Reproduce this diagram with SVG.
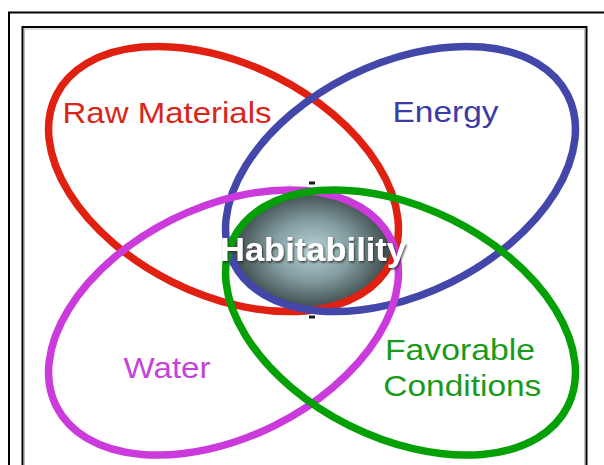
<svg xmlns="http://www.w3.org/2000/svg" width="604" height="465" viewBox="0 0 604 465">
  <defs>
    <radialGradient id="coreGrad" cx="0.5" cy="0.5" r="0.5">
      <stop offset="0" stop-color="#b9d5d9"/>
      <stop offset="0.45" stop-color="#829c9f"/>
      <stop offset="1" stop-color="#2a3333"/>
    </radialGradient>
    <clipPath id="cRed"><ellipse cx="223.5" cy="179" rx="190" ry="118" transform="rotate(26.6 223.5 179)"/></clipPath>
    <clipPath id="cBlue"><ellipse cx="400.5" cy="179" rx="190" ry="118" transform="rotate(-26.6 400.5 179)"/></clipPath>
    <clipPath id="cMag"><ellipse cx="223.5" cy="322.5" rx="190" ry="118" transform="rotate(-26.6 223.5 322.5)"/></clipPath>
    <clipPath id="cGreen"><ellipse cx="400.5" cy="322.5" rx="190" ry="118" transform="rotate(26.6 400.5 322.5)"/></clipPath>
    <clipPath id="cTips"><rect x="309" y="170" width="6" height="160"/></clipPath>
    <filter id="shadow" x="-10%" y="-30%" width="120%" height="160%">
      <feDropShadow dx="1" dy="1.5" stdDeviation="1" flood-color="#2a2a2a" flood-opacity="0.9"/>
    </filter>
  </defs>
  <style>
    .ring { fill: none; stroke-width: 7.5; }
    .lbl { font-family: "Liberation Sans", Arial, sans-serif; font-size: 29px; }
    .frame { fill: none; stroke: #000; stroke-width: 2; }
  </style>
  <rect width="604" height="465" fill="#ffffff"/>
  <g id="frames">
    <rect class="frame" x="9" y="12.5" width="610" height="470"/>
    <rect class="frame" x="22.5" y="27" width="564" height="460"/>
    <rect x="24.5" y="29" width="560" height="460" fill="none" stroke="#bdbdbd" stroke-width="1"/>
  </g>
  <g id="core-background">
    <g clip-path="url(#cRed)"><g clip-path="url(#cBlue)"><g clip-path="url(#cMag)"><g clip-path="url(#cGreen)">
      <ellipse cx="312" cy="250" rx="90" ry="67" fill="url(#coreGrad)"/>
    </g></g></g></g>
    <ellipse cx="312" cy="250" rx="90" ry="67" fill="none" stroke="#1a1a1a" stroke-width="3" clip-path="url(#cTips)"/>
  </g>
  <g id="raw-materials">
    <ellipse class="ring" cx="223.5" cy="179" rx="187" ry="115" transform="rotate(26.6 223.5 179)" stroke="#e02010"/>
    <text class="lbl" x="62.5" y="122.5" textLength="209" lengthAdjust="spacingAndGlyphs" fill="#d9261a">Raw Materials</text>
  </g>
  <g id="energy">
    <ellipse class="ring" cx="400.5" cy="179" rx="187" ry="115" transform="rotate(-26.6 400.5 179)" stroke="#4347a9"/>
    <text class="lbl" x="392.5" y="122.3" textLength="106" lengthAdjust="spacingAndGlyphs" fill="#3b3ba6">Energy</text>
  </g>
  <g id="water">
    <ellipse class="ring" cx="223.5" cy="322.5" rx="187" ry="115" transform="rotate(-26.6 223.5 322.5)" stroke="#cb3bdc"/>
    <text class="lbl" x="123.5" y="377.7" textLength="87" lengthAdjust="spacingAndGlyphs" fill="#c444d9">Water</text>
  </g>
  <g id="favorable-conditions">
    <ellipse class="ring" cx="400.5" cy="322.5" rx="187" ry="115" transform="rotate(26.6 400.5 322.5)" stroke="#05a005"/>
    <text class="lbl" x="385" y="360" textLength="150" lengthAdjust="spacingAndGlyphs" fill="#1a9a1a">Favorable</text>
    <text class="lbl" x="383.3" y="396" textLength="158" lengthAdjust="spacingAndGlyphs" fill="#1a9a1a">Conditions</text>
  </g>
  <g id="connectors"/>
  <g id="habitability">
    <text x="220" y="261" textLength="186" lengthAdjust="spacingAndGlyphs" font-family="Liberation Sans, Arial, sans-serif" font-weight="bold" font-size="34" fill="#ffffff" filter="url(#shadow)">Habitability</text>
  </g>
</svg>
